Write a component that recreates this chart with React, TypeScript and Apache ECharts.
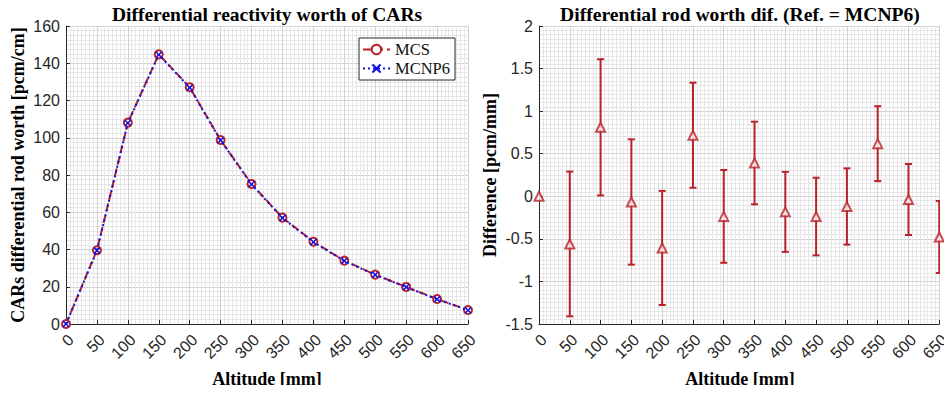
import React, { useEffect, useRef } from "react";
import * as echarts from "echarts";

const altitudes = [0, 50, 100, 150, 200, 250, 300, 350, 400, 450, 500, 550, 600, 650];
const mcsWorth = [0, 39.6, 108.1, 144.8, 127.1, 98.8, 75.2, 57.1, 44.2, 34.0, 26.5, 19.9, 13.4, 7.5];
const mcnp6Worth = [0, 39.4, 107.9, 144.6, 126.9, 98.6, 75.0, 56.9, 44.0, 33.9, 26.4, 19.8, 13.3, 7.4];
const diffValues = [0, -0.56, 0.81, -0.067, -0.607, 0.717, -0.236, 0.391, -0.183, -0.238, -0.12, 0.618, -0.038, -0.478];
const diffErrors = [0, 0.85, 0.8, 0.736, 0.67, 0.617, 0.545, 0.485, 0.47, 0.456, 0.448, 0.44, 0.417, 0.423];

const leftTitle = "Differential reactivity worth of CARs";
const rightTitle = "Differential rod worth dif. (Ref. = MCNP6)";
const leftYName = "CARs differential rod worth [pcm/cm]";
const rightYName = "Difference [pcm/mm]";
const xName = "Altitude [mm]";

const RED = "#b8232a";
const BLUE = "#1010e0";
const AXIS = "#262626";
const SERIF = "'Liberation Serif', 'Times New Roman', serif";
const SANS = "'Liberation Sans', Arial, sans-serif";

const X_PATH = "path://M0,1.5L1.5,0L5,3.5L8.5,0L10,1.5L6.5,5L10,8.5L8.5,10L5,6.5L1.5,10L0,8.5L3.5,5Z";

export default function App() {
  const ref = useRef<HTMLDivElement>(null);
  useEffect(() => {
    if (!ref.current) return;
    const chart = echarts.init(ref.current, null, { renderer: "svg" });

    const xAxisBase = (gridIndex: number) => ({
      type: "value" as const,
      gridIndex,
      min: 0,
      max: 650,
      interval: 50,
      axisLine: { show: true, onZero: false, lineStyle: { color: AXIS, width: 1 } },
      axisTick: { show: true, inside: true, length: 4, lineStyle: { color: AXIS } },
      axisLabel: {
        rotate: 45,
        fontSize: 16,
        fontFamily: SANS,
        color: AXIS,
        margin: 18,
        padding: [0, -7, 0, 0],
      },
      splitLine: { show: true, lineStyle: { color: "#d0d0d0", width: 1 } },
      minorTick: { show: false, splitNumber: 8 },
      minorSplitLine: { show: true, lineStyle: { color: "#e6e6e6", width: 1 } },
    });

    const yAxisBase = (gridIndex: number, min: number, max: number, interval: number, minorSplit: number) => ({
      type: "value" as const,
      gridIndex,
      min,
      max,
      interval,
      axisLine: { show: true, onZero: false, lineStyle: { color: AXIS, width: 1 } },
      axisTick: { show: true, inside: true, length: 4, lineStyle: { color: AXIS } },
      axisLabel: { fontSize: 16, fontFamily: SANS, color: AXIS, margin: 6 },
      splitLine: { show: true, lineStyle: { color: "#d0d0d0", width: 1 } },
      minorTick: { show: false, splitNumber: minorSplit },
      minorSplitLine: { show: true, lineStyle: { color: "#e6e6e6", width: 1 } },
    });

    const errData = altitudes.map((a, i) => [a, diffValues[i] - diffErrors[i], diffValues[i] + diffErrors[i]]);

    const textEl = (text: string, x: number, y: number, size: number, rot = 0) => ({
      type: "text",
      x,
      y,
      rotation: rot,
      style: {
        text,
        fontFamily: SERIF,
        fontWeight: "bold",
        fontSize: size,
        fill: "#000",
        align: "center",
        verticalAlign: "middle",
      },
    });

    chart.setOption({
      animation: false,
      backgroundColor: "#ffffff",
      grid: [
        { left: 66, top: 26, width: 402, height: 298, containLabel: false },
        { left: 539, top: 26, width: 402, height: 298, containLabel: false },
      ],
      xAxis: [xAxisBase(0), xAxisBase(1)],
      yAxis: [yAxisBase(0, 0, 160, 20, 8), yAxisBase(1, -1.5, 2, 0.5, 10)],
      legend: {
        show: true,
        orient: "vertical",
        left: 359,
        top: 38,
        padding: [3, 5, 3, 3],
        itemGap: 2,
        itemWidth: 27,
        itemHeight: 12,
        backgroundColor: "#ffffff",
        borderColor: AXIS,
        borderWidth: 1,
        borderRadius: 0,
        textStyle: { fontFamily: SERIF, fontSize: 16.5, color: "#111", padding: [2, 0, 2, 0] },
        data: ["MCS", "MCNP6"],
      },
      series: [
        {
          name: "MCS",
          type: "line",
          xAxisIndex: 0,
          yAxisIndex: 0,
          data: altitudes.map((a, i) => [a, mcsWorth[i]]),
          symbol: "emptyCircle",
          symbolSize: 8,
          lineStyle: { color: RED, width: 2, type: [8, 4] },
          itemStyle: { color: RED, borderColor: RED, borderWidth: 2 },
          z: 2,
        },
        {
          name: "MCNP6",
          type: "line",
          xAxisIndex: 0,
          yAxisIndex: 0,
          data: altitudes.map((a, i) => [a, mcnp6Worth[i]]),
          symbol: X_PATH,
          symbolSize: 7,
          lineStyle: { color: BLUE, width: 2, type: [2, 3] },
          itemStyle: { color: BLUE },
          z: 3,
        },
        {
          name: "diff-err",
          type: "custom",
          xAxisIndex: 1,
          yAxisIndex: 1,
          clip: true,
          data: errData,
          renderItem: (params: any, api: any) => {
            const x = api.value(0);
            const lo = api.value(1);
            const hi = api.value(2);
            if (hi === lo) return null;
            const pLo = api.coord([x, lo]);
            const pHi = api.coord([x, hi]);
            const w = 3.5;
            const style = { stroke: RED, lineWidth: 2, fill: "none" };
            return {
              type: "group",
              children: [
                { type: "line", shape: { x1: pLo[0], y1: pLo[1], x2: pHi[0], y2: pHi[1] }, style },
                { type: "line", shape: { x1: pLo[0] - w, y1: pLo[1], x2: pLo[0] + w, y2: pLo[1] }, style },
                { type: "line", shape: { x1: pHi[0] - w, y1: pHi[1], x2: pHi[0] + w, y2: pHi[1] }, style },
              ],
            };
          },
          z: 2,
        },
        {
          name: "diff",
          type: "scatter",
          xAxisIndex: 1,
          yAxisIndex: 1,
          data: altitudes.map((a, i) => [a, diffValues[i]]),
          symbol: "emptyTriangle",
          symbolSize: 9,
          itemStyle: { color: RED, borderColor: RED, borderWidth: 2 },
          z: 3,
        },
      ],
      graphic: [
        textEl(leftTitle, 267, 14, 19.5),
        textEl(rightTitle, 740, 14, 19.6),
        textEl(leftYName, 18, 175, 18, Math.PI / 2),
        textEl(rightYName, 490, 175, 18, Math.PI / 2),
        textEl(xName, 267, 379, 18),
        textEl(xName, 740, 379, 18),
      ],
    });
    return () => chart.dispose();
  }, []);
  return <div ref={ref} style={{ width: 952, height: 393, margin: -8 }} />;
}
